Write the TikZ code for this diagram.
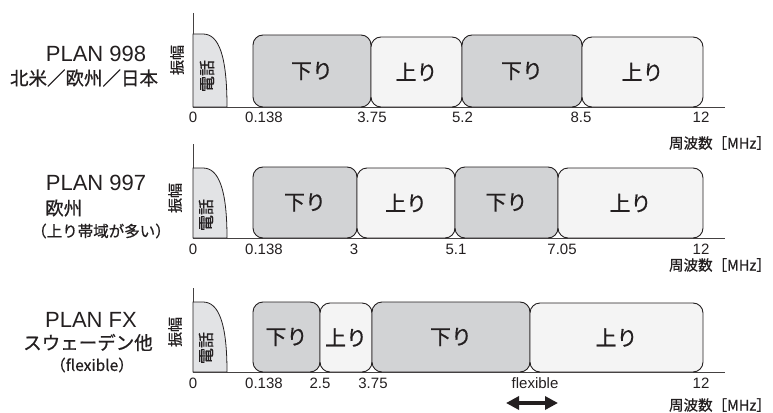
\documentclass[tikz,border=0pt]{standalone}
\usepackage{fontspec}
\setmainfont{Liberation Sans}
\newfontfamily\jp{Noto Sans CJK JP}[FakeBold=0.7]
\usetikzlibrary{arrows.meta}
\definecolor{downfill}{HTML}{D2D3D5}
\definecolor{upfill}{HTML}{F4F4F4}
\definecolor{telfill}{HTML}{E2E3E5}
\definecolor{ink}{HTML}{231F20}

% one frequency band: name, left x, right x, top y, bottom y, style, label
\newcommand\fband[7]{%
  \node[#6, minimum width={#3-#2}, minimum height={#5-#4}]
    (#1) at ({(#2+#3)/2},{(#4+#5)/2}) {#7};}

% axes of one panel: suffix, top y, baseline y
\newcommand\faxes[3]{%
  \coordinate (top#1) at (193,#2);
  \coordinate (org#1) at (193,#3);
  \coordinate (end#1) at (725,#3);
  \draw[axisline] (top#1) -- (org#1) -- (end#1);}

% telephone band: suffix, top y, baseline y
\newcommand\ftel[3]{%
  \filldraw[telline] (org#1) -- (193,#2) -- (203,#2)
    .. controls (219,#2) and (227,#2+22) .. (227,#3) -- cycle;}

\begin{document}
\begin{tikzpicture}[x=1pt,y=-1pt,
  band/.style={draw=ink, line width=0.9pt, rounded corners=10pt, inner sep=0pt,
    text=ink, font=\jp\fontsize{21}{21}\selectfont},
  downband/.style={band, fill=downfill},
  upband/.style={band, fill=upfill},
  axisline/.style={draw=ink!85, line width=0.9pt},
  telline/.style={draw=ink, fill=telfill, line width=0.8pt},
  ticklabel/.style={inner sep=0pt, text=ink, font=\fontsize{15}{15}\selectfont},
  unitlabel/.style={inner sep=0pt, anchor=east, text=ink, font=\jp\fontsize{14.5}{14.5}\selectfont},
  vlabel/.style={inner sep=0pt, rotate=90, text=ink, font=\jp\fontsize{15}{15}\selectfont},
  planlabel/.style={inner sep=0pt, text=ink, font=\fontsize{22}{22}\selectfont},
  sublabel/.style={inner sep=0pt, text=ink, font=\jp\fontsize{18.5}{18.5}\selectfont},
  notelabel/.style={inner sep=0pt, text=ink, font=\jp\fontsize{15.5}{15.5}\selectfont},
  flexarrow/.style={draw=ink, line width=3.5pt,
    {Triangle[length=13pt,width=13pt]}-{Triangle[length=13pt,width=13pt]}}
]
\useasboundingbox (0,0) rectangle (773,412);

% ---------------- PLAN 998 ----------------
\faxes{a}{13}{107}
\ftel{a}{34}{107}
\fband{a1}{253}{371}{35}{107}{downband}{下り}
\fband{a2}{371}{462}{37}{107}{upband}{上り}
\fband{a3}{462}{582}{35}{107}{downband}{下り}
\fband{a4}{582}{703}{37}{107}{upband}{上り}
\node[vlabel] (ampa) at (177,60) {振幅};
\node[vlabel, font=\jp\fontsize{16}{16}\selectfont] (tela) at (207,76) {電話};
\node[planlabel] (plana) at (96,54) {PLAN 998};
\node[sublabel] (rega) at (84,78) {北米／欧州／日本};
\node[ticklabel] (a0) at (193,117.5) {0};
\node[ticklabel] (a138) at (264,117.5) {0.138};
\node[ticklabel] (a375) at (372,117.5) {3.75};
\node[ticklabel] (a52) at (462.5,117.5) {5.2};
\node[ticklabel] (a85) at (581,117.5) {8.5};
\node[ticklabel] (a12) at (701,117.5) {12};
\node[unitlabel] (unita) at (771,143) {周波数［MHz］};

% ---------------- PLAN 997 ----------------
\faxes{b}{144}{238}
\ftel{b}{168}{238}
\fband{b1}{253}{357}{167}{238}{downband}{下り}
\fband{b2}{357}{455}{168}{238}{upband}{上り}
\fband{b3}{455}{558}{167}{238}{downband}{下り}
\fband{b4}{558}{703}{168}{238}{upband}{上り}
\node[vlabel] (ampb) at (175,198) {振幅};
\node[vlabel, font=\jp\fontsize{16}{16}\selectfont] (telb) at (206,215) {電話};
\node[planlabel] (planb) at (96,182.5) {PLAN 997};
\node[sublabel, anchor=west] (regb) at (45,208) {欧州};
\node[notelabel] (noteb) at (101,231) {（上り帯域が多い）};
\node[ticklabel] (b0) at (193,249) {0};
\node[ticklabel] (b138) at (264,249) {0.138};
\node[ticklabel] (b3l) at (354,249) {3};
\node[ticklabel] (b51) at (456,249) {5.1};
\node[ticklabel] (b705) at (562,249) {7.05};
\node[ticklabel] (b12) at (701,249) {12};
\node[unitlabel] (unitb) at (771,265) {周波数［MHz］};

% ---------------- PLAN FX ----------------
\faxes{c}{288}{372}
\ftel{c}{302}{372}
\fband{c1}{253}{320}{302}{372}{downband}{下り}
\fband{c2}{320}{372}{303}{372}{upband}{上り}
\fband{c3}{372}{530}{302}{372}{downband}{下り}
\fband{c4}{530}{703}{303}{372}{upband}{上り}
\node[vlabel] (ampc) at (175,332) {振幅};
\node[vlabel, font=\jp\fontsize{16}{16}\selectfont] (telc) at (206,348) {電話};
\node[planlabel] (planc) at (91,319.5) {PLAN FX};
\node[sublabel] (regc) at (88,342.5) {スウェーデン他};
\node[notelabel] (notec) at (92,365) {（flexible）};
\node[ticklabel] (c0) at (193,383) {0};
\node[ticklabel] (c138) at (264,383) {0.138};
\node[ticklabel] (c25) at (320,383) {2.5};
\node[ticklabel] (c375) at (373,383) {3.75};
\node[ticklabel] (cflex) at (535,383) {flexible};
\node[ticklabel] (c12) at (701,383) {12};
\node[unitlabel] (unitc) at (771,405) {周波数［MHz］};
\coordinate (fl) at (506,403);
\coordinate (fr) at (558,403);
\draw[flexarrow] (fl) -- (fr);
\end{tikzpicture}
\end{document}
